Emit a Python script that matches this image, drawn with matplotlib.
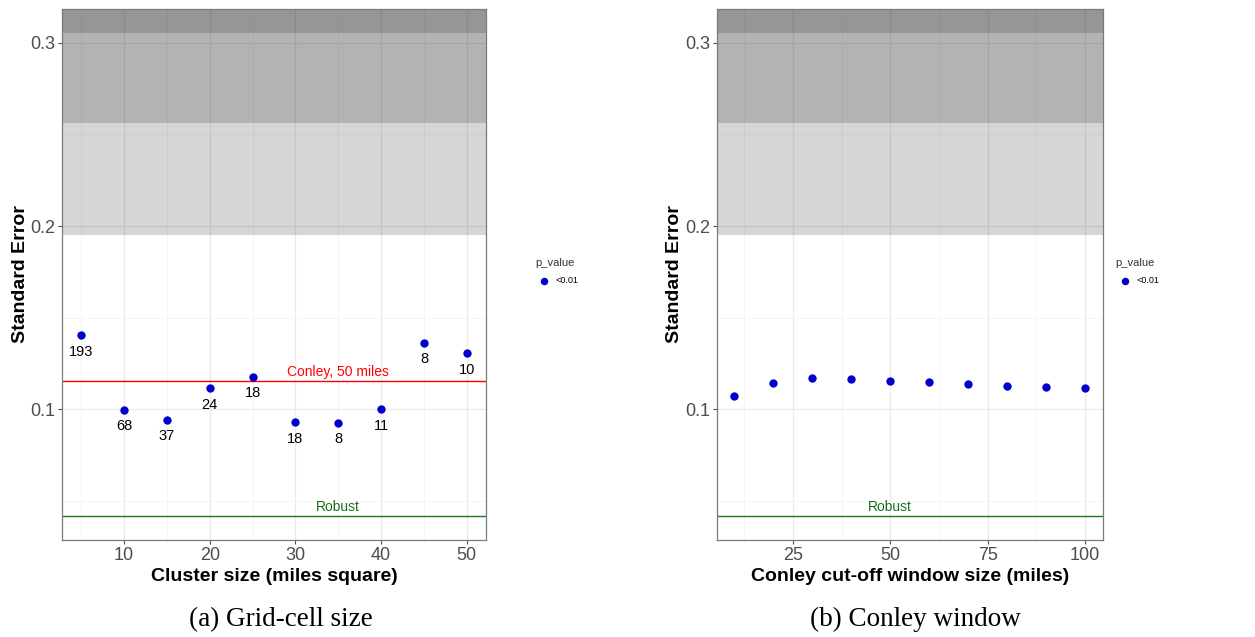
import numpy as np
import matplotlib
matplotlib.use('Agg')
import matplotlib.pyplot as plt

plt.rcParams['font.family'] = ['Liberation Sans', 'DejaVu Sans']

# grid-cell clustering
cluster_size = [5, 10, 15, 20, 25, 30, 35, 40, 45, 50]
cluster_se = [0.1404, 0.0998, 0.0943, 0.1116, 0.1178, 0.0929, 0.0927, 0.1002, 0.1363, 0.1307]
cluster_count = ['193', '68', '37', '24', '18', '18', '8', '11', '8', '10']

# conley cut-off windows
conley_window = [10, 20, 30, 40, 50, 60, 70, 80, 90, 100]
conley_se = [0.1074, 0.1145, 0.1169, 0.1164, 0.1153, 0.1147, 0.1136, 0.1127, 0.1120, 0.1118]

robust_se = 0.0418
conley50_se = 0.1153
# SE thresholds where significance drops (shaded regions)
band_lows = [0.1951, 0.2562, 0.3053]

ylim = (0.0287, 0.3184)
point_color = '#0000CD'


def style_axes(ax, xmajor, xminor):
    ax.set_ylim(*ylim)
    ax.set_yticks([0.1, 0.2, 0.3])
    ax.set_yticklabels(['0.1', '0.2', '0.3'])
    ax.set_yticks([0.05, 0.15, 0.25], minor=True)
    ax.set_xticks(xmajor)
    ax.set_xticks(xminor, minor=True)
    ax.set_axisbelow(True)
    ax.grid(which='major', color='#ebebeb', lw=1.0)
    ax.grid(which='minor', color='#f4f4f4', lw=0.6)
    ax.tick_params(which='major', length=3, color='#4d4d4d', labelcolor='#4d4d4d',
                   labelsize=13, pad=2)
    ax.tick_params(which='minor', length=0)
    for s in ax.spines.values():
        s.set_color('#7a7a7a')
        s.set_linewidth(0.9)
    for lo in band_lows:
        ax.axhspan(lo, 1.0, color='black', alpha=0.16, lw=0, zorder=1)
    ax.set_ylabel('Standard Error', fontsize=14, fontweight='bold', labelpad=1)
    ax.axhline(robust_se, color='#1a7a1a', lw=1.0, zorder=2)


def add_legend(ax, sc, xanchor):
    leg = ax.legend([sc], ['<0.01'], title='p_value', loc='center left',
                    bbox_to_anchor=(xanchor, 0.505), frameon=False, fontsize=6.5,
                    title_fontsize=8, alignment='left', handletextpad=0.3,
                    markerscale=0.9, borderpad=0.2)
    leg.get_title().set_color('#333333')
    leg._legend_box.sep = 6


fig = plt.figure(figsize=(12.55, 6.37), dpi=100)

# (a) grid-cell size
ax1 = fig.add_axes([0.0494, 0.1523, 0.3379, 0.8336])
ax1.set_xlim(2.75, 52.25)
style_axes(ax1, [10, 20, 30, 40, 50], [5, 15, 25, 35, 45])
ax1.axhline(conley50_se, color='#ff0000', lw=1.0, zorder=2)
ax1.text(35, conley50_se + 0.001, 'Conley, 50 miles', color='#ff0000', fontsize=10,
         ha='center', va='bottom')
ax1.text(35, robust_se + 0.001, 'Robust', color='#1a6e1a', fontsize=10,
         ha='center', va='bottom')
sc1 = ax1.scatter(cluster_size, cluster_se, s=36, color=point_color, zorder=3, lw=0)
for x, y, n in zip(cluster_size, cluster_se, cluster_count):
    ax1.annotate(n, (x, y), xytext=(0, -12), textcoords='offset points',
                 ha='center', va='center', fontsize=10.5, color='black')
ax1.set_xlabel('Cluster size (miles square)', fontsize=14, fontweight='bold', labelpad=3)
add_legend(ax1, sc1, 1.10)

# (b) conley window
ax2 = fig.add_axes([0.5711, 0.1523, 0.3076, 0.8336])
ax2.set_xlim(5.5, 104.5)
style_axes(ax2, [25, 50, 75, 100], [12.5, 37.5, 62.5, 87.5])
ax2.text(50, robust_se + 0.001, 'Robust', color='#1a6e1a', fontsize=10,
         ha='center', va='bottom')
sc2 = ax2.scatter(conley_window, conley_se, s=36, color=point_color, zorder=3, lw=0)
ax2.set_xlabel('Conley cut-off window size (miles)', fontsize=14, fontweight='bold', labelpad=3)
add_legend(ax2, sc2, 1.017)

fig.text(0.224, 0.027, '(a) Grid-cell size', family='Liberation Serif', fontsize=19.5,
         ha='center', va='center')
fig.text(0.7297, 0.027, '(b) Conley window', family='Liberation Serif', fontsize=19.5,
         ha='center', va='center')

fig.savefig('out.png', dpi=100)
